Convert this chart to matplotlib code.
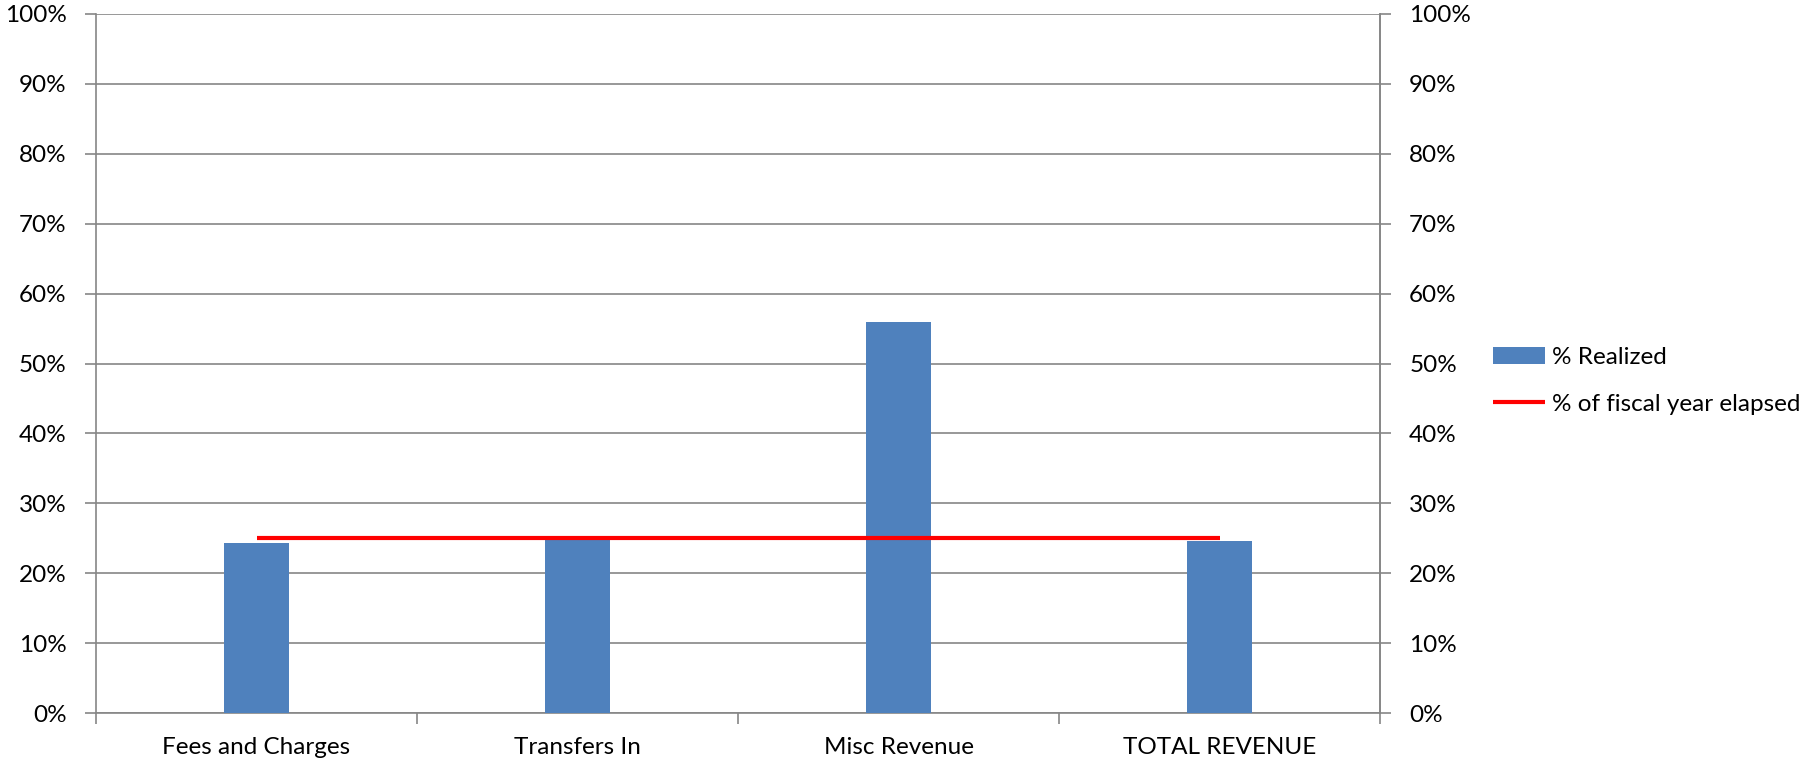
import matplotlib
matplotlib.use("Agg")
import matplotlib.pyplot as plt
from matplotlib.ticker import PercentFormatter, FixedLocator
import numpy as np

categories = ["Fees and Charges", "Transfers In", "Misc Revenue", "TOTAL REVENUE"]
pct_realized = [24.3, 24.8, 56.0, 24.6]
pct_year_elapsed = [25.0, 25.0, 25.0, 25.0]
y_ticks = [0, 10, 20, 30, 40, 50, 60, 70, 80, 90, 100]

plt.rcParams["font.family"] = ["Lato", "DejaVu Sans"]
FS = 17.5
GRID = "#868686"

fig = plt.figure(figsize=(18.12, 7.65), dpi=100)
ax = fig.add_axes([96 / 1812, 1 - 713 / 765, (1380 - 96) / 1812, (713 - 14) / 765])

x = np.arange(len(categories))
bars = ax.bar(x, pct_realized, width=0.2, color="#4F81BD", label="% Realized", zorder=3)
line, = ax.plot(x, pct_year_elapsed, color="#FF0000", lw=3, label="% of fiscal year elapsed",
                zorder=4, solid_capstyle="butt")

ax.set_xlim(-0.5, len(categories) - 0.5)
ax.set_ylim(0, 100)
ax.set_yticks(y_ticks)
ax.yaxis.set_major_formatter(PercentFormatter(decimals=0))
ax.grid(axis="y", color=GRID, lw=1.2, zorder=0)
ax.set_axisbelow(True)

ax.set_xticks(x)
ax.set_xticklabels(categories, fontsize=FS)
ax.xaxis.set_minor_locator(FixedLocator(np.arange(-0.5, len(categories), 1.0)))
ax.tick_params(axis="x", which="major", length=0, pad=17)
ax.tick_params(axis="x", which="minor", length=8, color=GRID, width=1.2)
ax.tick_params(axis="y", length=8, color=GRID, width=1.2, labelsize=FS, pad=13)

ax.spines["top"].set_visible(False)
for side in ("left", "right", "bottom"):
    ax.spines[side].set_color(GRID)
    ax.spines[side].set_linewidth(1.2)

ax2 = ax.twinx()
ax2.set_ylim(0, 100)
ax2.set_yticks(y_ticks)
ax2.yaxis.set_major_formatter(PercentFormatter(decimals=0))
ax2.tick_params(axis="y", length=8, color=GRID, width=1.2, labelsize=FS, pad=13)
for side in ("top", "left", "bottom"):
    ax2.spines[side].set_visible(False)
ax2.spines["right"].set_color(GRID)
ax2.spines["right"].set_linewidth(1.2)

fig.legend(handles=[bars, line], loc="center left", bbox_to_anchor=(1493 / 1812, 1 - 381 / 765),
           frameon=False, fontsize=FS, handlelength=2.15, handletextpad=0.28,
           labelspacing=1.05, borderpad=0, borderaxespad=0)

fig.savefig("out.png", dpi=100)
